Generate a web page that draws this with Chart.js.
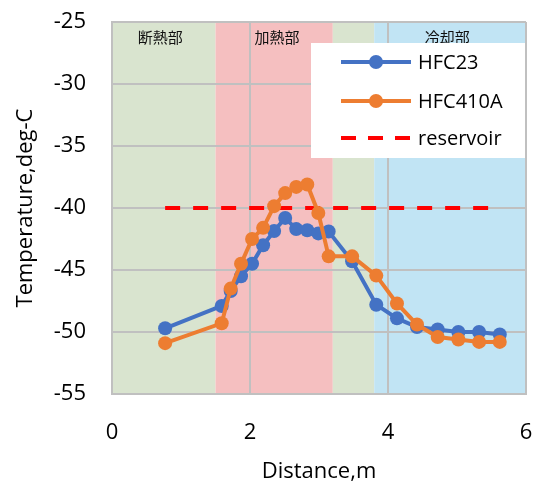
<!DOCTYPE html>
<html>
<head>
<meta charset="utf-8">
<script src="https://cdn.jsdelivr.net/npm/chart.js@4.4.1/dist/chart.umd.min.js"></script>
<style>
  html, body { margin: 0; padding: 0; background: #fff; }
</style>
</head>
<body>
<canvas id="tempChart" width="540" height="485"></canvas>
<script>
// measured points (distance along pipe, m)
const distance = [0.77, 1.59, 1.72, 1.87, 2.03, 2.19, 2.35, 2.51, 2.67, 2.83, 2.99, 3.14, 3.48, 3.83, 4.13, 4.42, 4.72, 5.02, 5.32, 5.62];
const hfc23 = [-49.7, -47.9, -46.7, -45.5, -44.5, -43.0, -41.85, -40.8, -41.7, -41.8, -42.05, -41.9, -44.3, -47.8, -48.9, -49.6, -49.8, -50.0, -50.0, -50.2];
const hfc410a = [-50.9, -49.3, -46.5, -44.5, -42.5, -41.6, -39.85, -38.8, -38.3, -38.1, -40.4, -43.9, -43.9, -45.45, -47.7, -49.4, -50.4, -50.6, -50.8, -50.8];
const reservoirX = [0.77, 5.62];
const reservoirY = [-40, -40];

// background zones
const bandFrom = [0, 1.5, 3.2, 3.8];
const bandTo = [1.5, 3.2, 3.8, 6];
const bandColors = ['#d9e4cf', '#f5bfc0', '#d9e4cf', '#c1e4f4'];
const zoneNames = ['断熱部', '加熱部', '冷却部'];
const zoneNameX = [0.70, 2.39, 4.86];
const zoneNameY = -26.2;

const xMin = 0, xMax = 6, xStep = 2;
const yMin = -55, yMax = -25, yStep = 5;

const toPoints = (xs, ys) => xs.map((x, i) => ({ x: x, y: ys[i] }));

const FONT = "'Open Sans', 'Liberation Sans', sans-serif";

const bandsPlugin = {
    id: 'bands',
    beforeDraw(chart) {
        const { ctx, chartArea, scales } = chart;
        ctx.save();
        ctx.fillStyle = '#fff';
        ctx.fillRect(0, 0, chart.width, chart.height);
        for (let i = 0; i < bandFrom.length; i++) {
            const x0 = scales.x.getPixelForValue(bandFrom[i]);
            const x1 = scales.x.getPixelForValue(bandTo[i]);
            ctx.fillStyle = bandColors[i];
            ctx.fillRect(x0, chartArea.top, x1 - x0, chartArea.bottom - chartArea.top);
        }
        ctx.restore();
    },
    afterDraw(chart) {
        const { ctx, scales, chartArea } = chart;
        ctx.save();
        // zone names
        ctx.font = "15px 'Noto Sans CJK JP'";
        ctx.fillStyle = '#111';
        ctx.textAlign = 'center';
        ctx.textBaseline = 'middle';
        zoneNames.forEach((name, i) => {
            ctx.fillText(name, scales.x.getPixelForValue(zoneNameX[i]), scales.y.getPixelForValue(zoneNameY));
        });

        // legend box
        const lx = 311, ly = 43;
        ctx.fillStyle = '#fff';
        ctx.fillRect(lx, ly, chartArea.right - 1 - lx, 115);
        const entries = [
            { text: 'HFC23', color: '#4472c4', dash: [], dot: true, y: 62 },
            { text: 'HFC410A', color: '#ed7d31', dash: [], dot: true, y: 101 },
            { text: 'reservoir', color: '#ff0000', dash: [15, 12], dot: false, y: 138 }
        ];
        entries.forEach(e => {
            ctx.strokeStyle = e.color;
            ctx.lineWidth = 4;
            ctx.setLineDash(e.dash);
            ctx.beginPath();
            ctx.moveTo(341, e.y);
            ctx.lineTo(411, e.y);
            ctx.stroke();
            ctx.setLineDash([]);
            if (e.dot) {
                ctx.fillStyle = e.color;
                ctx.beginPath();
                ctx.arc(376, e.y, 7, 0, Math.PI * 2);
                ctx.fill();
            }
            ctx.fillStyle = '#000';
            ctx.font = '20px ' + FONT;
            ctx.textAlign = 'left';
            ctx.textBaseline = 'middle';
            ctx.fillText(e.text, 418, e.y + 1);
        });
        ctx.restore();
    }
};

const ctx = document.getElementById('tempChart').getContext('2d');

new Chart(ctx, {
    type: 'line',
    data: {
        datasets: [
            {
                label: 'HFC410A',
                data: toPoints(distance, hfc410a),
                borderColor: '#ed7d31',
                backgroundColor: '#ed7d31',
                borderWidth: 4,
                pointRadius: 7,
                pointBorderWidth: 0,
                order: 0
            },
            {
                label: 'HFC23',
                data: toPoints(distance, hfc23),
                borderColor: '#4472c4',
                backgroundColor: '#4472c4',
                borderWidth: 4,
                pointRadius: 7,
                pointBorderWidth: 0,
                order: 1
            },
            {
                label: 'reservoir',
                data: toPoints(reservoirX, reservoirY),
                borderColor: '#ff0000',
                borderWidth: 4,
                borderDash: [15, 13],
                pointRadius: 0,
                order: 2
            }
        ]
    },
    options: {
        responsive: false,
        animation: false,
        devicePixelRatio: 1,
        layout: { padding: { top: 22, right: 14, left: 0, bottom: 0 } },
        plugins: {
            legend: { display: false },
            tooltip: { enabled: false }
        },
        scales: {
            x: {
                type: 'linear',
                min: xMin,
                max: xMax,
                grid: { color: '#c0c0c0', lineWidth: 2, drawTicks: false },
                border: { color: '#c0c0c0', width: 2 },
                ticks: {
                    stepSize: xStep,
                    padding: 26,
                    color: '#000',
                    font: { family: FONT, size: 22 }
                },
                title: {
                    display: true,
                    text: 'Distance,m',
                    color: '#000',
                    font: { family: FONT, size: 22 },
                    padding: { bottom: 0 }
                },
                afterFit(scale) {
                    scale.height = 91;
                    scale.paddingLeft = 0;
                    scale.paddingRight = 0;
                }
            },
            y: {
                type: 'linear',
                min: yMin,
                max: yMax,
                grid: { color: '#c0c0c0', lineWidth: 2, drawTicks: false },
                border: { color: '#c0c0c0', width: 2 },
                ticks: {
                    stepSize: yStep,
                    padding: 26,
                    color: '#000',
                    font: { family: FONT, size: 22 }
                },
                title: {
                    display: true,
                    text: 'Temperature,deg-C',
                    color: '#000',
                    font: { family: FONT, size: 22 },
                    padding: { top: 13 }
                },
                afterFit(scale) {
                    scale.width = 112;
                    scale.paddingTop = 0;
                    scale.paddingBottom = 0;
                }
            }
        }
    },
    plugins: [bandsPlugin]
});
</script>
</body>
</html>
